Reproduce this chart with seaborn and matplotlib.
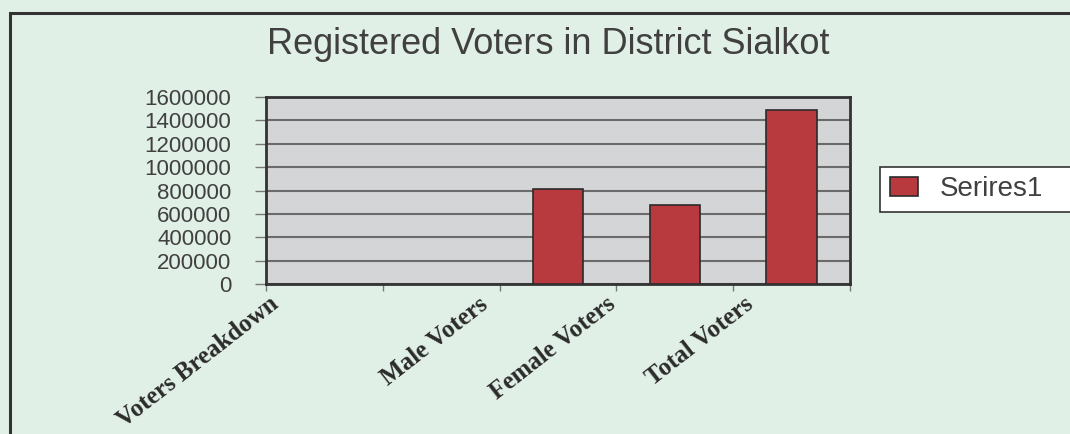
import numpy as np
import matplotlib
matplotlib.use("Agg")
import matplotlib.pyplot as plt
from matplotlib.patches import Rectangle
import matplotlib.transforms as mtransforms
import seaborn as sns

# -----------------------------
# Data
# -----------------------------
categories = ["Voters Breakdown", " ", "Male Voters", "Female Voters", "Total Voters"]
voters = [np.nan, np.nan, 811000, 674000, 1485000]
series_name = "Serires1"
title = "Registered Voters in District Sialkot"
y_ticks = [0, 200000, 400000, 600000, 800000, 1000000, 1200000, 1400000, 1600000]
# where the slanted category labels end (data x)
label_x = [-0.36, 1.44, 2.53, 3.71]
label_text = ["Voters Breakdown", "Male Voters", "Female Voters", "Total Voters"]

# -----------------------------
# Style
# -----------------------------
sns.set_theme(style="white")
plt.rcParams["font.family"] = ["Liberation Sans", "DejaVu Sans"]

bg = "#e1f0e6"
text_col = "#404040"
bar_col = "#b8393e"

fig = plt.figure(figsize=(10.7, 4.34), dpi=100, facecolor=bg)
ax = fig.add_axes([266 / 1070, 1 - 284 / 434, 584 / 1070, 187 / 434])
ax.set_facecolor("#d4d5d7")

sns.barplot(x=categories, y=voters, order=categories, color=bar_col,
            saturation=1, width=0.43, edgecolor="#2b2b2b", linewidth=1.2,
            label=series_name, ax=ax, zorder=3)

ax.set_xlim(-0.5, 4.5)
ax.set_ylim(0, 1600000)
ax.set_yticks(y_ticks)
ax.set_yticklabels([str(v) for v in y_ticks])
ax.yaxis.grid(True, color="#6b6b6b", linewidth=1.5, zorder=0)
ax.set_axisbelow(True)
ax.set_xticks(np.arange(-0.5, 5, 1))
ax.set_xticklabels([])
ax.set_xlabel("")
ax.set_ylabel("")

ax.tick_params(axis="y", which="major", left=True, length=8, width=1, color="#777777",
               labelsize=16, labelcolor=text_col, pad=17)
ax.tick_params(axis="x", which="major", bottom=True, length=5, width=1, color="#777777")

for s in ax.spines.values():
    s.set_color("#333333")
    s.set_linewidth(2)
    s.set_visible(True)

# slanted category labels
trans = mtransforms.blended_transform_factory(ax.transData, ax.transAxes)
for xx, txt in zip(label_x, label_text):
    ax.text(xx, -0.045, txt, transform=trans, rotation=38, ha="right", va="top",
            fontsize=18, fontweight="bold", color="#2b2b2b",
            family=["Liberation Serif", "DejaVu Serif"], clip_on=False)

# title
fig.text(548 / 1070, 1 - 45 / 434, title, ha="center", va="center", fontsize=26,
         color=text_col, family=["Liberation Sans", "DejaVu Sans"])

# legend
leg = ax.legend(loc="center left", bbox_to_anchor=(880 / 1070, 1 - 212 / 434, 0.2, 45 / 434),
                bbox_transform=fig.transFigure, mode="expand", fontsize=20,
                frameon=True, fancybox=False, framealpha=1, facecolor="white",
                edgecolor="#333333", handlelength=1.0, handleheight=0.67,
                handletextpad=0.8, borderpad=0.35, borderaxespad=0)
leg.get_frame().set_linewidth(1.2)
for t in leg.get_texts():
    t.set_color(text_col)

# outer chart border
fig.add_artist(Rectangle((10 / 1070, -0.1), 1.1, 1 - 13 / 434 + 0.1, transform=fig.transFigure,
                         fill=False, edgecolor="#333333", linewidth=2.2, clip_on=False))

fig.savefig("out.png", dpi=100, facecolor=bg)
